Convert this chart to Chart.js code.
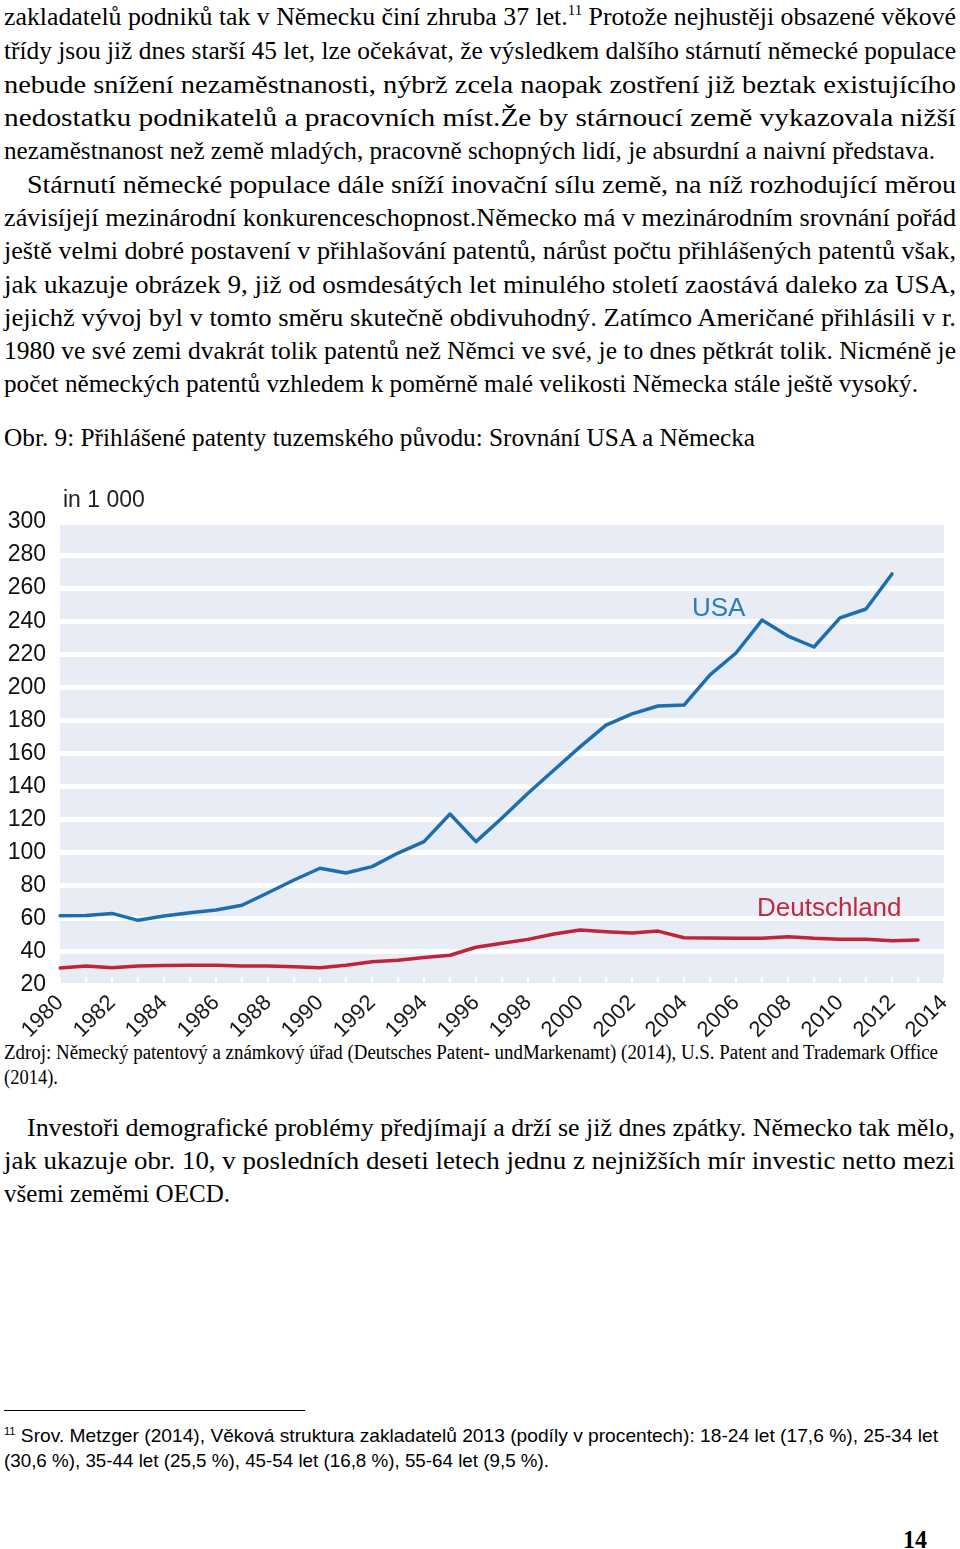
<!DOCTYPE html>
<html>
<head>
<meta charset="utf-8">
<script src="https://cdn.jsdelivr.net/npm/chart.js@4.4.0/dist/chart.umd.min.js"></script>
<style>
  html,body{margin:0;padding:0;background:#fff;}
  body{width:960px;height:1549px;position:relative;overflow:hidden;}
  .ln{position:absolute;white-space:nowrap;font-family:'Liberation Serif','Times New Roman',serif;font-size:26px;line-height:22px;color:#000;transform-origin:0 0;}
  .ln sup{font-size:15px;line-height:0;vertical-align:10px;}
  .src{font-size:20px;line-height:18px;}
  .fn{font-family:'Liberation Sans Narrow','Liberation Sans','Open Sans',sans-serif;font-size:19px;line-height:18px;color:#000;}
  .fn sup{font-size:11px;vertical-align:7px;}
  .pg{font-weight:bold;font-size:25px;line-height:24px;}
  #rule{position:absolute;left:4px;top:1410px;width:301px;height:1px;background:#000;}
  #chartBox{position:absolute;left:0;top:480px;width:960px;height:560px;}
</style>
</head>
<body>
<div class="ln" style="left:4px;top:6px" data-r="956">zakladatelů podniků tak v Německu činí zhruba 37 let.<sup>11</sup> Protože nejhustěji obsazené věkové</div>
<div class="ln" style="left:4px;top:40px" data-r="956">třídy jsou již dnes starší 45 let, lze očekávat, že výsledkem dalšího stárnutí německé populace</div>
<div class="ln" style="left:4px;top:74px" data-r="956">nebude snížení nezaměstnanosti, nýbrž zcela naopak zostření již beztak existujícího</div>
<div class="ln" style="left:4px;top:107px" data-r="956">nedostatku podnikatelů a pracovních míst.Že by stárnoucí země vykazovala nižší</div>
<div class="ln" style="left:4px;top:140px" data-r="935">nezaměstnanost než země mladých, pracovně schopných lidí, je absurdní a naivní představa.</div>

<div class="ln" style="left:27px;top:174px" data-r="956">Stárnutí německé populace dále sníží inovační sílu země, na níž rozhodující měrou</div>
<div class="ln" style="left:4px;top:207px" data-r="956">závisíjejí mezinárodní konkurenceschopnost.Německo má v mezinárodním srovnání pořád</div>
<div class="ln" style="left:4px;top:240px" data-r="956">ještě velmi dobré postavení v přihlašování patentů, nárůst počtu přihlášených patentů však,</div>
<div class="ln" style="left:4px;top:274px" data-r="956">jak ukazuje obrázek 9, již od osmdesátých let minulého století zaostává daleko za USA,</div>
<div class="ln" style="left:4px;top:307px" data-r="956">jejichž vývoj byl v tomto směru skutečně obdivuhodný. Zatímco Američané přihlásili v r.</div>
<div class="ln" style="left:4px;top:340px" data-r="956">1980 ve své zemi dvakrát tolik patentů než Němci ve své, je to dnes pětkrát tolik. Nicméně je</div>
<div class="ln" style="left:4px;top:373px" data-r="918">počet německých patentů vzhledem k poměrně malé velikosti Německa stále ještě vysoký.</div>

<div class="ln" style="left:4px;top:427px" data-r="755">Obr. 9: Přihlášené patenty tuzemského původu: Srovnání USA a Německa</div>

<div id="chartBox"><canvas id="c" width="960" height="560"></canvas></div>

<div class="ln src" style="left:4px;top:1043px" data-r="938">Zdroj: Německý patentový a známkový úřad (Deutsches Patent- undMarkenamt) (2014), U.S. Patent and Trademark Office</div>
<div class="ln src" style="left:4px;top:1068px" data-r="58">(2014).</div>

<div class="ln" style="left:27px;top:1117px" data-r="955">Investoři demografické problémy předjímají a drží se již dnes zpátky. Německo tak mělo,</div>
<div class="ln" style="left:4px;top:1150px" data-r="955">jak ukazuje obr. 10, v posledních deseti letech jednu z nejnižších mír investic netto mezi</div>
<div class="ln" style="left:4px;top:1183px" data-r="230">všemi zeměmi OECD.</div>

<div id="rule"></div>
<div class="ln fn" style="left:4px;top:1427px" data-r="938"><sup>11</sup> Srov. Metzger (2014), Věková struktura zakladatelů 2013 (podíly v procentech): 18-24 let (17,6 %), 25-34 let</div>
<div class="ln fn" style="left:4px;top:1452px" data-r="549">(30,6 %), 35-44 let (25,5 %), 45-54 let (16,8 %), 55-64 let (9,5 %).</div>

<div class="ln pg" style="left:903px;top:1528px" data-r="927">14</div>

<script>
// ---- data ----
const years = ['1980','1981','1982','1983','1984','1985','1986','1987','1988','1989',
  '1990','1991','1992','1993','1994','1995','1996','1997','1998','1999',
  '2000','2001','2002','2003','2004','2005','2006','2007','2008','2009',
  '2010','2011','2012','2013','2014'];
const usaPatents = [61.9, 62.1, 63.3, 59.1, 61.7, 63.7, 65.4, 68.2, 75.8, 83.5,
  90.6, 87.7, 91.6, 99.8, 106.7, 123.4, 106.7, 121, 136, 150,
  164, 177.2, 184, 188.7, 189.3, 207.5, 220.8, 240.7, 231, 224.4,
  242, 247.4, 268.6, null, null];
const dePatents = [30.3, 31.5, 30.5, 31.5, 31.8, 32, 32, 31.5, 31.5, 31,
  30.5, 32, 34, 35, 36.7, 38, 42.8, 45.2, 47.6, 50.8,
  53.2, 52.2, 51.4, 52.6, 48.6, 48.4, 48.2, 48.2, 49.2, 48.2,
  47.6, 47.6, 46.8, 47.2, null];
const xTickLabels = ['1980','','1982','','1984','','1986','','1988','',
  '1990','','1992','','1994','','1996','','1998','',
  '2000','','2002','','2004','','2006','','2008','',
  '2010','','2012','','2014'];
const yMin = 20, yMax = 300, yStep = 20;
const unitLabel = 'in 1 000';
const seriesNames = ['USA', 'Deutschland'];

// ---- text fitting ----
document.querySelectorAll('.ln').forEach(el => {
  const left = parseFloat(el.style.left);
  const target = parseFloat(el.dataset.r) - left;
  const w = el.getBoundingClientRect().width;
  if (w > 0) el.style.transform = 'scaleX(' + (target / w) + ')';
});

// ---- chart ----
const bgPlugin = {
  id: 'bgPlugin',
  beforeDraw(chart) {
    const {ctx, chartArea: a} = chart;
    ctx.save();
    ctx.fillStyle = '#e7ecf5';
    ctx.fillRect(a.left, a.top, a.right - a.left, a.bottom - a.top);
    ctx.restore();
  },
  beforeDatasetsDraw(chart) {
    const {ctx, chartArea: a, scales} = chart;
    ctx.save();
    ctx.strokeStyle = '#ffffff';
    ctx.lineWidth = 2;
    for (let i = 0; i < years.length; i++) {
      const x = scales.x.getPixelForValue(i);
      ctx.beginPath();
      ctx.moveTo(x, a.bottom - 8);
      ctx.lineTo(x, a.bottom);
      ctx.stroke();
    }
    ctx.restore();
  },
  afterDraw(chart) {
    const {ctx} = chart;
    ctx.save();
    ctx.textBaseline = 'middle';
    ctx.textAlign = 'left';
    ctx.font = '23px "Liberation Sans", Arial, sans-serif';
    ctx.fillStyle = '#222';
    ctx.fillText(unitLabel, 63, 21);
    ctx.font = '26px "Liberation Sans", Arial, sans-serif';
    ctx.fillStyle = '#2b7bbd';
    ctx.fillText(seriesNames[0], 692, 129);
    ctx.fillStyle = '#c12a3e';
    ctx.fillText(seriesNames[1], 757, 429);
    ctx.restore();
  }
};

new Chart(document.getElementById('c'), {
  type: 'line',
  data: {
    labels: years,
    datasets: [
      {label: seriesNames[0], data: usaPatents, borderColor: '#1d6eb0', borderWidth: 3.5,
       pointRadius: 0, tension: 0, fill: false, spanGaps: false, borderCapStyle: 'round', borderJoinStyle: 'round'},
      {label: seriesNames[1], data: dePatents, borderColor: '#c1223c', borderWidth: 3.5,
       pointRadius: 0, tension: 0, fill: false, spanGaps: false, borderCapStyle: 'round', borderJoinStyle: 'round'}
    ]
  },
  options: {
    responsive: false,
    animation: false,
    layout: {padding: {top: 42, right: 16, left: 0, bottom: 0}},
    plugins: {legend: {display: false}, tooltip: {enabled: false}},
    scales: {
      x: {
        type: 'category',
        offset: false,
        grid: {display: false, drawTicks: false},
        border: {display: false},
        ticks: {
          autoSkip: false, minRotation: 45, maxRotation: 45, padding: 5,
          color: '#1a1a1a',
          font: {family: '"Liberation Sans", Arial, sans-serif', size: 22},
          callback: (v, i) => xTickLabels[i]
        },
        afterFit: s => { s.height = 55; s.paddingRight = 0; s.paddingLeft = 0; }
      },
      y: {
        min: yMin, max: yMax,
        grid: {color: '#ffffff', lineWidth: 5, drawTicks: false},
        border: {display: false},
        ticks: {
          stepSize: yStep, padding: 14, color: '#111',
          font: {family: '"Liberation Sans", Arial, sans-serif', size: 23}
        },
        afterFit: s => { s.width = 60; }
      }
    }
  },
  plugins: [bgPlugin]
});
</script>
</body>
</html>
